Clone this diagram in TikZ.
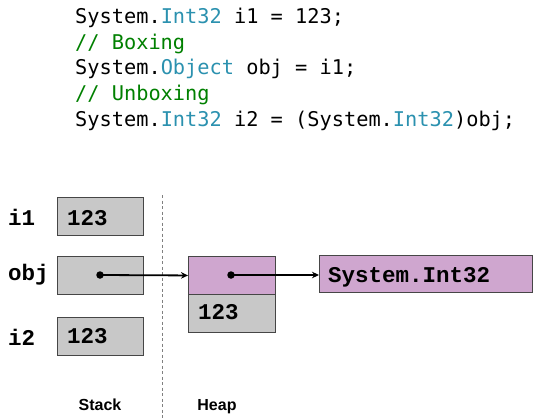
\documentclass[tikz,border=0pt]{standalone}
\usepackage{fontspec}
\setmonofont{DejaVu Sans Mono}
\newfontfamily\codefont{DejaVu Sans Mono}
\newfontfamily\courfont{Liberation Mono}
\newfontfamily\arialfont{Liberation Sans}
\usetikzlibrary{arrows.meta}
\definecolor{cblue}{RGB}{43,145,175}
\definecolor{cgreen}{RGB}{0,128,0}
\definecolor{boxgray}{RGB}{200,200,200}
\definecolor{boxpurple}{RGB}{207,166,207}
\definecolor{edgegray}{RGB}{70,70,70}
\begin{document}
\begin{tikzpicture}[x=1pt,y=-1pt,
  codeline/.style={anchor=base west,inner sep=0pt,font=\codefont\fontsize{20.3}{24}\selectfont},
  cell/.style={draw=edgegray,line width=0.9pt,minimum width=86pt,minimum height=38pt,inner sep=0pt,anchor=north west},
  grayc/.style={cell,fill=boxgray},
  purplec/.style={cell,fill=boxpurple},
  val/.style={anchor=base west,inner sep=0pt,font=\courfont\bfseries\fontsize{22.5}{26}\selectfont},
  lbl/.style={anchor=base west,inner sep=0pt,font=\courfont\bfseries\fontsize{22.5}{26}\selectfont},
  captext/.style={anchor=base,inner sep=0pt,font=\arialfont\bfseries\fontsize{16}{19}\selectfont},
  ptr/.style={line width=1.8pt,-{Stealth[length=7pt,width=6.5pt]}},
  dotmark/.style={circle,fill=black,inner sep=0pt,minimum size=7.5pt}
]
\useasboundingbox (0,0) rectangle (536,420);
% code
\node[codeline] (c1) at (75,24) {System.\textcolor{cblue}{Int32} i1 = 123;};
\node[codeline] (c2) at (75,49.5) {\textcolor{cgreen}{// Boxing}};
\node[codeline] (c3) at (75,75) {System.\textcolor{cblue}{Object} obj = i1;};
\node[codeline] (c4) at (75,100.5) {\textcolor{cgreen}{// Unboxing}};
\node[codeline] (c5) at (75,126) {System.\textcolor{cblue}{Int32} i2 = (System.\textcolor{cblue}{Int32})obj;};
% separator
\coordinate (sepT) at (162,195);
\coordinate (sepB) at (162,420);
\draw[gray,line width=1pt,dash pattern=on 3pt off 2.5pt] (sepT) -- (sepB);
% stack
\node[grayc] (si1) at (57,197) {};
\node[grayc] (sobj) at (57,256) {};
\node[grayc] (si2) at (57,317) {};
\node[lbl] (li1) at (8,225) {i1};
\node[lbl] (lobj) at (8,280) {obj};
\node[lbl] (li2) at (8,345) {i2};
\node[val] (vi1) at (67,225) {123};
\node[val] (vi2) at (67,343) {123};
% heap
\node[purplec,minimum width=87pt] (hp) at (188,256) {};
\node[grayc,minimum width=87pt] (hv) at (188,294) {};
\node[val] (vh) at (198,319) {123};
\node[purplec,minimum width=213pt,minimum height=37pt] (ty) at (319,255) {};
\node[val] (vty) at (328,282) {System.Int32};
% pointers
\node[dotmark] (d1) at (100,275) {};
\node[dotmark] (d2) at (231,275) {};
\draw[ptr] (d1.center) -- (hp.west);
\draw[ptr] (d2.center) -- (d2.center -| ty.west);
% captions
\node[captext] (stk) at (100,410) {Stack};
\node[captext] (hep) at (217,410) {Heap};
\end{tikzpicture}
\end{document}
